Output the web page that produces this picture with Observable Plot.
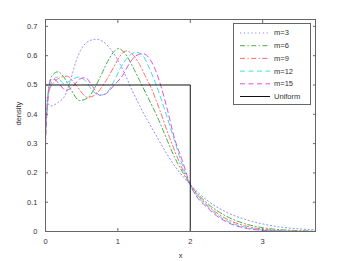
<!DOCTYPE html>
<html>
<head>
<meta charset="utf-8">
<script src="https://cdn.jsdelivr.net/npm/d3@7"></script>
<script src="https://cdn.jsdelivr.net/npm/@observablehq/plot@0.6"></script>
<style>
  html, body { margin: 0; padding: 0; background: #fff; }
  #wrap { position: relative; width: 348px; height: 261px; }
  #legend { position: absolute; left: 0; top: 0; }
</style>
</head>
<body>
<div id="wrap"></div>
<script>
// ---- data ----
const seriesNames = ["m=3", "m=6", "m=9", "m=12", "m=15"];

const m3X = [0, 0.07, 0.17, 0.27, 0.35, 0.42, 0.5, 0.6, 0.7, 0.8, 0.9, 1.0, 1.1, 1.2, 1.3, 1.4, 1.5, 1.6, 1.7, 1.82, 2.0, 2.25, 2.5, 2.75, 3.0, 3.25, 3.5, 3.73];
const m3Y = [0.46, 0.428, 0.44, 0.465, 0.52, 0.58, 0.625, 0.65, 0.656, 0.647, 0.622, 0.585, 0.535, 0.48, 0.43, 0.383, 0.34, 0.297, 0.255, 0.212, 0.16, 0.103, 0.066, 0.042, 0.026, 0.015, 0.009, 0.006];

const m6X = [0, 0.05, 0.1, 0.17, 0.25, 0.35, 0.47, 0.58, 0.68, 0.78, 0.88, 0.95, 1.01, 1.1, 1.2, 1.3, 1.4, 1.5, 1.6, 1.7, 1.8, 1.9, 2.0, 2.25, 2.5, 2.75, 3.0, 3.25, 3.5, 3.73];
const m6Y = [0.35, 0.5, 0.535, 0.545, 0.528, 0.485, 0.447, 0.455, 0.49, 0.54, 0.59, 0.615, 0.624, 0.607, 0.565, 0.515, 0.465, 0.415, 0.36, 0.3, 0.245, 0.2, 0.16, 0.093, 0.052, 0.027, 0.013, 0.006, 0.003, 0.001];

const m9X = [0, 0.05, 0.12, 0.2, 0.3, 0.42, 0.58, 0.68, 0.77, 0.85, 0.94, 1.02, 1.11, 1.2, 1.3, 1.38, 1.46, 1.58, 1.7, 1.84, 2.0, 2.25, 2.5, 2.75, 3.0, 3.25, 3.5, 3.73];
const m9Y = [0.33, 0.48, 0.51, 0.525, 0.53, 0.5, 0.458, 0.465, 0.49, 0.52, 0.56, 0.595, 0.616, 0.605, 0.57, 0.53, 0.49, 0.413, 0.33, 0.242, 0.16, 0.087, 0.043, 0.02, 0.008, 0.003, 0.001, 0];

const m12X = [0, 0.04, 0.1, 0.16, 0.25, 0.35, 0.45, 0.55, 0.65, 0.75, 0.83, 0.95, 1.04, 1.14, 1.25, 1.33, 1.42, 1.53, 1.65, 1.77, 1.87, 2.0, 2.25, 2.5, 2.75, 3.0, 3.25, 3.5, 3.73];
const m12Y = [0.32, 0.47, 0.515, 0.527, 0.505, 0.515, 0.527, 0.515, 0.48, 0.465, 0.47, 0.515, 0.56, 0.595, 0.612, 0.605, 0.565, 0.5, 0.413, 0.32, 0.242, 0.16, 0.082, 0.037, 0.015, 0.005, 0.002, 0.0005, 0];

const m15X = [0, 0.03, 0.08, 0.12, 0.2, 0.28, 0.38, 0.47, 0.55, 0.65, 0.75, 0.82, 0.95, 1.08, 1.15, 1.25, 1.35, 1.45, 1.52, 1.59, 1.68, 1.78, 1.89, 2.0, 2.25, 2.5, 2.75, 3.0, 3.25, 3.5, 3.73];
const m15Y = [0.3, 0.45, 0.52, 0.52, 0.5, 0.482, 0.495, 0.52, 0.525, 0.495, 0.465, 0.468, 0.5, 0.538, 0.57, 0.6, 0.607, 0.585, 0.55, 0.5, 0.42, 0.32, 0.242, 0.16, 0.078, 0.033, 0.012, 0.004, 0.001, 0, 0];

const uniformX = [0, 2, 2];
const uniformY = [0.5, 0.5, 0];
const uniformName = "Uniform";

const xTicks = [0, 1, 2, 3];
const yTicks = [0, 0.1, 0.2, 0.3, 0.4, 0.5, 0.6, 0.7];
const xLabel = "x";
const yLabel = "density";

// ---- styles ----
const seriesX = [m3X, m6X, m9X, m12X, m15X];
const seriesY = [m3Y, m6Y, m9Y, m12Y, m15Y];
const colors = ["#8c8cff", "#44b044", "#ff6a6a", "#3ee0e0", "#e04ee0"];
const dashes = ["1.2,2.6", "5,2.5,1.2,2.5", "5,2.5,1.2,2.5", "5,3.5", "5,3.5"];

const rows = [];
seriesNames.forEach((name, s) => {
  seriesX[s].forEach((x, i) => rows.push({x, y: seriesY[s][i], series: name}));
});
const uniRows = uniformX.map((x, i) => ({x, y: uniformY[i]}));

const font = "'Liberation Sans', Arial, Helvetica, sans-serif";

const chart = Plot.plot({
  width: 348,
  height: 261,
  marginLeft: 45,
  marginRight: 33,
  marginTop: 19,
  marginBottom: 30,
  style: {fontFamily: font, fontSize: "7.5px", background: "#fff", color: "#333"},
  x: {domain: [0, 3.73]},
  y: {domain: [0, 0.7235]},
  marks: [
    ...seriesNames.map((name, s) =>
      Plot.line(rows.filter(r => r.series === name), {
        x: "x", y: "y", stroke: colors[s], strokeWidth: 1,
        strokeDasharray: dashes[s], curve: "monotone-x"
      })
    ),
    Plot.line(uniRows, {x: "x", y: "y", stroke: "#111", strokeWidth: 1}),
    Plot.frame({stroke: "#666"}),
    Plot.axisX(xTicks, {anchor: "bottom", tickSize: -3, tickPadding: 10, label: null, stroke: "#666", fill: "#333"}),
    Plot.axisX(xTicks, {anchor: "top", tickSize: -3, tickFormat: () => "", label: null, stroke: "#666"}),
    Plot.axisY(yTicks, {anchor: "left", tickSize: -3, tickPadding: 11, label: null, tickFormat: d => d === 0 ? "0" : d3.format(".1f")(d), stroke: "#666", fill: "#333"}),
    Plot.axisY(yTicks, {anchor: "right", tickSize: -3, tickFormat: () => "", label: null, stroke: "#666"}),
    Plot.text([yLabel], {text: d => d, frameAnchor: "left", dx: -27, rotate: -90, fill: "#333"}),
    Plot.text([xLabel], {text: d => d, frameAnchor: "bottom", dy: 26, fill: "#333"})
  ]
});

const wrap = document.getElementById("wrap");
wrap.appendChild(chart);

// ---- legend (overlay inside the axes) ----
const legendNames = [...seriesNames, uniformName];
const legendColors = [...colors, "#111"];
const legendDashes = [...dashes, null];
const ns = "http://www.w3.org/2000/svg";
const lg = document.createElementNS(ns, "svg");
lg.setAttribute("id", "legend");
lg.setAttribute("width", 348);
lg.setAttribute("height", 261);
lg.style.fontFamily = font;
lg.style.fontSize = "7.5px";
const box = document.createElementNS(ns, "rect");
box.setAttribute("x", 233.5); box.setAttribute("y", 23.5);
box.setAttribute("width", 77); box.setAttribute("height", 81);
box.setAttribute("fill", "#fff"); box.setAttribute("stroke", "#666");
lg.appendChild(box);
legendNames.forEach((name, i) => {
  const yy = 33 + i * 12.7;
  const ln = document.createElementNS(ns, "line");
  ln.setAttribute("x1", 240); ln.setAttribute("x2", 270);
  ln.setAttribute("y1", yy); ln.setAttribute("y2", yy);
  ln.setAttribute("stroke", legendColors[i]);
  ln.setAttribute("stroke-width", 1);
  if (legendDashes[i]) ln.setAttribute("stroke-dasharray", legendDashes[i]);
  lg.appendChild(ln);
  const t = document.createElementNS(ns, "text");
  t.setAttribute("x", 274); t.setAttribute("y", yy);
  t.setAttribute("dy", "0.32em");
  t.setAttribute("fill", "#333");
  t.textContent = name;
  lg.appendChild(t);
});
wrap.appendChild(lg);
</script>
</body>
</html>
